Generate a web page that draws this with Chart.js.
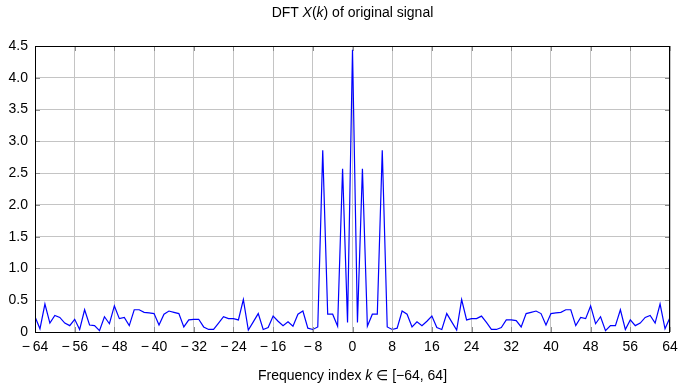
<!DOCTYPE html>
<html>
<head>
<meta charset="utf-8">
<script src="https://cdn.jsdelivr.net/npm/chart.js@4"></script>
<style>
  html, body { margin: 0; padding: 0; background: #fff; }
  #wrap { position: relative; width: 679px; height: 383px; font-family: "Liberation Sans", Arial, sans-serif; color: #000; }
  canvas { position: absolute; left: 0; top: 0; }
  .lbl { position: absolute; left: 35px; width: 635px; text-align: center; font-size: 14px; white-space: nowrap; }
  #title { top: 4px; }
  #xlabel { top: 367px; }
</style>
</head>
<body>
<div id="wrap">
  <canvas id="dft" width="679" height="383"></canvas>
  <div id="title" class="lbl">DFT <i>X</i>(<i>k</i>) of original signal</div>
  <div id="xlabel" class="lbl">Frequency index <i>k</i> ∈ [−64, 64]</div>
</div>
<script>
// frequency index k = -64 .. 64
const kValues = [];
for (let k = -64; k <= 64; k++) kValues.push(k);

// |X(k)|
const magnitude = [
  0.24, 0.05, 0.44, 0.14, 0.26, 0.23, 0.14, 0.10, 0.20, 0.04, 0.35, 0.11, 0.10, 0.02, 0.24, 0.13,
  0.41, 0.21, 0.23, 0.10, 0.35, 0.35, 0.31, 0.30, 0.29, 0.11, 0.28, 0.33, 0.31, 0.29, 0.08, 0.19,
  0.20, 0.20, 0.08, 0.04, 0.04, 0.14, 0.24, 0.21, 0.21, 0.19, 0.51, 0.03, 0.16, 0.29, 0.04, 0.07,
  0.25, 0.17, 0.10, 0.16, 0.09, 0.28, 0.33, 0.06, 0.04, 0.08, 2.86, 0.28, 0.28, 0.09, 2.57, 0.15,
  4.44,
  0.15, 2.57, 0.09, 0.28, 0.28, 2.86, 0.08, 0.04, 0.06, 0.33, 0.28, 0.08, 0.16, 0.10, 0.17, 0.25,
  0.07, 0.04, 0.29, 0.16, 0.03, 0.51, 0.19, 0.21, 0.21, 0.25, 0.15, 0.04, 0.04, 0.07, 0.19, 0.19,
  0.18, 0.08, 0.29, 0.31, 0.33, 0.29, 0.11, 0.29, 0.30, 0.31, 0.35, 0.35, 0.10, 0.23, 0.21, 0.41,
  0.13, 0.24, 0.02, 0.10, 0.10, 0.35, 0.04, 0.19, 0.10, 0.14, 0.23, 0.26, 0.14, 0.44, 0.05, 0.23
];

const xTicks = [-64, -56, -48, -40, -32, -24, -16, -8, 0, 8, 16, 24, 32, 40, 48, 56, 64];
const yTicks = [0, 0.5, 1.0, 1.5, 2.0, 2.5, 3.0, 3.5, 4.0, 4.5];

const points = kValues.map((k, i) => ({ x: k, y: magnitude[i] }));

// black box round the plot + short inner tick marks (pgfplots look)
const frame = {
  id: "frame",
  afterDraw(chart) {
    const a = chart.chartArea, ctx = chart.ctx;
    const xs = chart.scales.x, ys = chart.scales.y;
    ctx.save();
    ctx.strokeStyle = "#8c8c8c";
    ctx.lineWidth = 1;
    ctx.beginPath();
    xTicks.forEach(v => {
      const px = Math.round(xs.getPixelForValue(v)) + 0.5;
      ctx.moveTo(px, a.bottom); ctx.lineTo(px, a.bottom - 5);
      ctx.moveTo(px, a.top); ctx.lineTo(px, a.top + 5);
    });
    yTicks.forEach(v => {
      const py = Math.round(ys.getPixelForValue(v)) + 0.5;
      ctx.moveTo(a.left, py); ctx.lineTo(a.left + 5, py);
      ctx.moveTo(a.right, py); ctx.lineTo(a.right - 5, py);
    });
    ctx.stroke();
    ctx.strokeStyle = "#000";
    ctx.strokeRect(a.left + 0.5, a.top + 0.5, a.right - a.left - 1, a.bottom - a.top);
    ctx.restore();
  }
};

const tickFont = { family: "Liberation Sans, Arial, sans-serif", size: 14 };

new Chart(document.getElementById("dft"), {
  type: "line",
  data: {
    datasets: [{
      data: points,
      borderColor: "#0000ff",
      borderWidth: 1.2,
      pointRadius: 0,
      tension: 0,
      fill: false
    }]
  },
  options: {
    responsive: false,
    animation: false,
    layout: { padding: { left: 0, right: 9, top: 46, bottom: 0 } },
    plugins: { legend: { display: false }, tooltip: { enabled: false } },
    scales: {
      x: {
        type: "linear",
        min: -64, max: 64,
        afterBuildTicks: s => { s.ticks = xTicks.map(v => ({ value: v })); },
        afterFit: s => { s.height = 51; s.paddingLeft = 0; s.paddingRight = 0; },
        grid: { color: "#c4c4c4", lineWidth: 1, drawTicks: false },
        border: { display: false },
        ticks: {
          color: "#000", font: tickFont, padding: 7, maxRotation: 0,
          callback: v => v < 0 ? "\u2212\u2009" + Math.abs(v) : String(v)
        }
      },
      y: {
        min: 0, max: 4.5,
        afterBuildTicks: s => { s.ticks = yTicks.map(v => ({ value: v })); },
        afterFit: s => { s.width = 35; s.paddingTop = 0; s.paddingBottom = 0; },
        grid: { color: "#c4c4c4", lineWidth: 1, drawTicks: false },
        border: { display: false },
        ticks: {
          color: "#000", font: tickFont, padding: 7,
          callback: v => v === 0 ? "0" : v.toFixed(1)
        }
      }
    }
  },
  plugins: [frame]
});
</script>
</body>
</html>
